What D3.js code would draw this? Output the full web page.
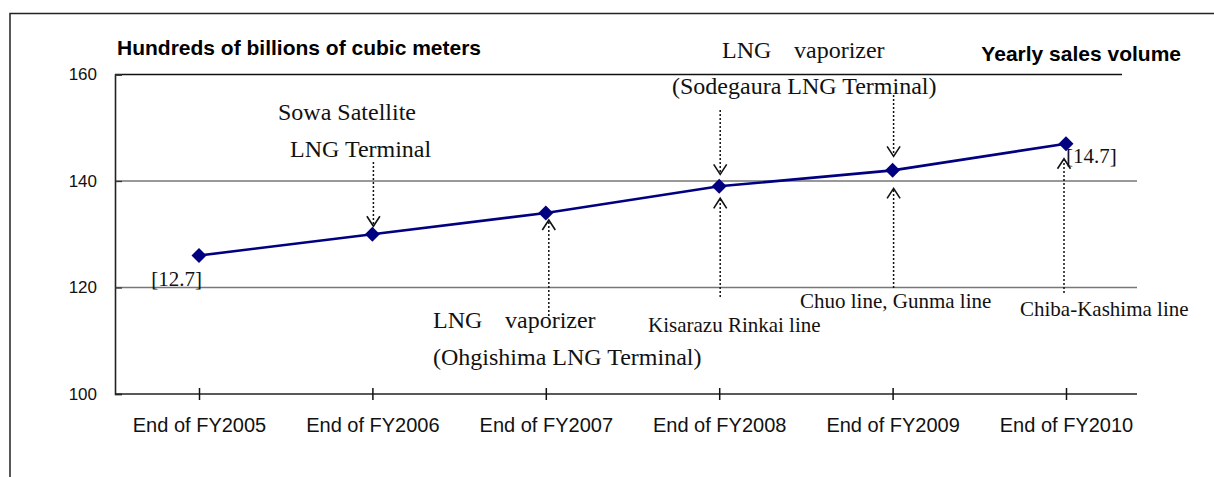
<!DOCTYPE html>
<html>
<head>
<meta charset="utf-8">
<script src="https://cdn.jsdelivr.net/npm/d3@7"></script>
<style>
  body { margin: 0; background: #fff; }
  svg { display: block; }
  .sans { font-family: "Liberation Sans", Arial, sans-serif; }
  .serif { font-family: "Liberation Serif", "Times New Roman", serif; }
</style>
</head>
<body>
<div id="chart"></div>
<script>
// chart data
var categories = ["End of FY2005", "End of FY2006", "End of FY2007", "End of FY2008", "End of FY2009", "End of FY2010"];
var salesVolume = [126, 130, 134, 139, 142, 147];
var yTicks = [100, 120, 140, 160];
var valueLabels = ["[12.7]", "", "", "", "", "[14.7]"];

// events drawn above / below the line (index = category)
var upperNotes = [
  { cat: 1, lines: ["Sowa Satellite", "LNG Terminal"] },
  { cat: 3, lines: ["LNG|vaporizer", "(Sodegaura LNG Terminal)"] }
];
var lowerNotes = [
  { cat: 2, lines: ["LNG|vaporizer", "(Ohgishima LNG Terminal)"] },
  { cat: 3, lines: ["Kisarazu Rinkai line"] },
  { cat: 4, lines: ["Chuo line, Gunma line"] },
  { cat: 5, lines: ["Chiba-Kashima line"] }
];
var downArrowCats = [1, 3, 4];
var upArrowCats = [2, 3, 4, 5];

var width = 1214, height = 477;

var svg = d3.select("#chart").append("svg")
  .attr("width", width)
  .attr("height", height);

// outer frame (only top + left visible)
svg.append("path")
  .attr("d", "M10,477 L10,13.5 L1214,13.5")
  .attr("fill", "none")
  .attr("stroke", "#222")
  .attr("stroke-width", 1.5);

var x = d3.scalePoint().domain(d3.range(categories.length)).range([199, 1066]);
var y = d3.scaleLinear().domain([100, 160]).range([394, 74.5]);
var axisLeft = 115, axisRight = 1137;

// grid lines
svg.selectAll(".grid")
  .data(yTicks.filter(function(d) { return d > 100 && d < 160; }))
  .enter().append("line")
  .attr("class", "grid")
  .attr("x1", axisLeft).attr("x2", axisRight)
  .attr("y1", function(d) { return y(d); })
  .attr("y2", function(d) { return y(d); })
  .attr("stroke", "#777")
  .attr("stroke-width", 1.3);

// top border of plot at 160
svg.append("line")
  .attr("x1", axisLeft).attr("x2", 1122)
  .attr("y1", y(160)).attr("y2", y(160))
  .attr("stroke", "#111").attr("stroke-width", 1.4);

// y axis
var yAxis = d3.axisLeft(y).tickValues(yTicks).tickSize(-7).tickPadding(18);
var gy = svg.append("g").attr("class", "sans").attr("transform", "translate(" + axisLeft + ",0)").call(yAxis);
gy.select(".domain").attr("stroke", "#222").attr("stroke-width", 1.6);
gy.selectAll(".tick line").attr("stroke", "#333").attr("stroke-width", 1.3);
gy.selectAll(".tick text").attr("font-size", 17).attr("fill", "#111").attr("font-family", null);

// x axis
var xAxis = d3.axisBottom(x).tickFormat(function(i) { return categories[i]; }).tickSize(6).tickPadding(18);
var gx = svg.append("g").attr("class", "sans").attr("transform", "translate(0," + y(100) + ")").call(xAxis);
gx.select(".domain").attr("d", "M" + axisLeft + ",0H" + axisRight).attr("stroke", "#222").attr("stroke-width", 1.6);
gx.selectAll(".tick line").attr("y1", -6).attr("stroke", "#111").attr("stroke-width", 1.5);
gx.selectAll(".tick text").attr("font-size", 20).attr("fill", "#111").attr("font-family", null);

// titles
svg.append("text").attr("class", "sans")
  .attr("x", 117).attr("y", 55)
  .attr("font-size", 21).attr("font-weight", "bold")
  .text("Hundreds of billions of cubic meters");
svg.append("text").attr("class", "sans")
  .attr("x", 1181).attr("y", 61)
  .attr("text-anchor", "end")
  .attr("font-size", 21).attr("font-weight", "bold")
  .text("Yearly sales volume");

// dotted arrows
function arrowHead(g, xx, tip, dir) {
  // open V, dir = 1 pointing down, -1 pointing up
  g.append("path")
    .attr("d", "M" + (xx - 6.5) + "," + (tip - dir * 10) + " L" + xx + "," + tip + " L" + (xx + 6.5) + "," + (tip - dir * 10))
    .attr("fill", "none").attr("stroke", "#111").attr("stroke-width", 1.6);
}
var arrows = svg.append("g");
var downTop = { 1: 162, 3: 110, 4: 95 };
var downGap = { 1: 8, 3: 12, 4: 14 };
downArrowCats.forEach(function(i) {
  var xx = x(i) + 1, tip = y(salesVolume[i]) - downGap[i];
  arrows.append("line")
    .attr("x1", xx).attr("x2", xx).attr("y1", downTop[i]).attr("y2", tip - 1)
    .attr("stroke", "#111").attr("stroke-width", 1.5).attr("stroke-dasharray", "2,2");
  arrowHead(arrows, xx, tip, 1);
});
var upBottom = { 2: 316, 3: 297, 4: 288, 5: 293 };
var upGap = { 2: 7, 3: 12, 4: 18, 5: 15 };
var upShift = { 2: 3, 3: 1, 4: 1, 5: -2 };
upArrowCats.forEach(function(i) {
  var xx = x(i) + upShift[i], tip = y(salesVolume[i]) + upGap[i];
  arrows.append("line")
    .attr("x1", xx).attr("x2", xx).attr("y1", upBottom[i]).attr("y2", tip + 1)
    .attr("stroke", "#111").attr("stroke-width", 1.5).attr("stroke-dasharray", "2,2");
  arrowHead(arrows, xx, tip, -1);
});

// series line
var line = d3.line()
  .x(function(d, i) { return x(i); })
  .y(function(d) { return y(d); });
svg.append("path")
  .datum(salesVolume)
  .attr("d", line)
  .attr("fill", "none")
  .attr("stroke", "#000080")
  .attr("stroke-width", 2.6);

svg.selectAll(".marker")
  .data(salesVolume)
  .enter().append("path")
  .attr("class", "marker")
  .attr("d", d3.symbol(d3.symbolSquare).size(112))
  .attr("transform", function(d, i) { return "translate(" + x(i) + "," + y(d) + ") rotate(45)"; })
  .attr("fill", "#000080");

// value labels
var vl = svg.selectAll(".vlabel")
  .data(valueLabels)
  .enter().append("text")
  .attr("class", "vlabel serif")
  .attr("font-size", 21)
  .attr("fill", "#111")
  .text(function(d) { return d; });
vl.filter(function(d, i) { return i === 0; })
  .attr("x", function(d, i) { return x(0) + 3; })
  .attr("y", function() { return y(salesVolume[0]) + 30; })
  .attr("text-anchor", "end");
vl.filter(function(d, i) { return i === valueLabels.length - 1; })
  .attr("x", x(valueLabels.length - 1))
  .attr("y", y(salesVolume[valueLabels.length - 1]) + 19);

// annotation text positions (left x, baseline y, size) per line
var noteLayout = {
  "up1": [[278, 120, 24], [290, 157, 24]],
  "up3": [[722, 58, 24, 794], [672, 94, 24]],
  "low2": [[433, 328, 24, 505], [433, 365, 24]],
  "low3": [[648, 332, 21]],
  "low4": [[800, 308, 21]],
  "low5": [[1020, 316, 21]]
};
function drawNotes(notes, key) {
  notes.forEach(function(n) {
    var pos = noteLayout[key + n.cat];
    n.lines.forEach(function(t, k) {
      var p = pos[k];
      var parts = t.split("|");
      var txt = svg.append("text").attr("class", "serif")
        .attr("font-size", p[2]).attr("fill", "#111")
        .attr("y", p[1]);
      txt.append("tspan").attr("x", p[0]).text(parts[0]);
      if (parts.length > 1) txt.append("tspan").attr("x", p[3]).text(parts[1]);
    });
  });
}
drawNotes(upperNotes, "up");
drawNotes(lowerNotes, "low");
</script>
</body>
</html>
